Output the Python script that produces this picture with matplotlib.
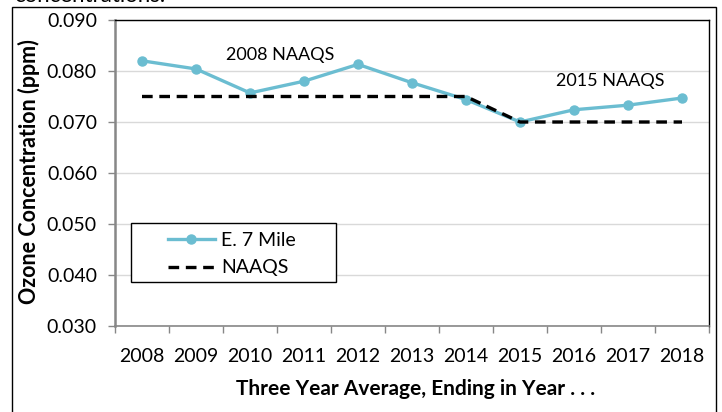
import matplotlib
matplotlib.use("Agg")
import matplotlib.pyplot as plt
from matplotlib.patches import Rectangle
from matplotlib.ticker import FixedLocator

plt.rcParams['font.family'] = ['Lato', 'DejaVu Sans']

years = ["2008", "2009", "2010", "2011", "2012", "2013", "2014", "2015", "2016", "2017", "2018"]
e7mile = [0.0820, 0.0804, 0.0757, 0.0780, 0.0813, 0.0777, 0.0744, 0.0700, 0.0724, 0.0733, 0.0747]
naaqs = [0.075, 0.075, 0.075, 0.075, 0.075, 0.075, 0.075, 0.070, 0.070, 0.070, 0.070]
yticks = [0.030, 0.040, 0.050, 0.060, 0.070, 0.080, 0.090]

W, H = 722, 412
fig = plt.figure(figsize=(W / 100, H / 100), dpi=100)
L, R, T, B = 115, 709, 20, 326
ax = fig.add_axes([L / W, 1 - B / H, (R - L) / W, (B - T) / H])

x = list(range(len(years)))
line_col = "#6BBDD1"
ax.plot(x, e7mile, color=line_col, lw=2.4, marker="o", ms=6.5, label="E. 7 Mile", zorder=3, clip_on=False)
ax.plot(x, naaqs, color="black", lw=2.4, ls=(0, (3.2, 2.0)), label="NAAQS", zorder=4)

ax.set_xlim(-0.5, len(years) - 0.5)
ax.set_ylim(0.030, 0.090)
ax.set_yticks(yticks)
ax.set_yticklabels([f"{v:.3f}" for v in yticks])
ax.set_xticks(x)
ax.set_xticklabels(years)
ax.xaxis.set_minor_locator(FixedLocator([i - 0.5 for i in range(len(years) + 1)]))
ax.tick_params(axis="x", which="major", length=0, pad=16, labelsize=14)
ax.tick_params(axis="x", which="minor", length=5, color="#878787", width=1)
ax.tick_params(axis="y", length=5, color="#878787", width=1, pad=8, labelsize=14)

ax.grid(axis="y", color="#D9D9D9", lw=1)
ax.set_axisbelow(True)
for s in ["top", "right"]:
    ax.spines[s].set_color("black")
    ax.spines[s].set_linewidth(1)
ax.spines["left"].set_color("#878787")
ax.spines["left"].set_linewidth(1.8)
ax.spines["bottom"].set_color("#878787")
ax.spines["bottom"].set_linewidth(1.2)

ax.text(2.56, 0.0831, "2008 NAAQS", ha="center", va="center", fontsize=13)
ax.text(8.67, 0.0780, "2015 NAAQS", ha="center", va="center", fontsize=13)

# legend box
ax.add_patch(Rectangle((0.0269, 0.1438), 0.372 - 0.0269, 0.3366 - 0.1438,
                       transform=ax.transAxes, fill=True, facecolor="white",
                       edgecolor="black", lw=1, zorder=5))
leg = ax.legend(loc="center left", bbox_to_anchor=((168 - L) / (R - L), (B - 254) / (B - T)),
                frameon=False, borderpad=0, borderaxespad=0, handlelength=2.4,
                handletextpad=0.35, labelspacing=0.55, fontsize=14)
leg.set_zorder(6)

fig.text(29 / W, 1 - 172 / H, "Ozone Concentration (ppm)", rotation=90, ha="center", va="center",
         fontsize=15.5, fontweight="bold")
fig.text(416 / W, 1 - 389 / H, "Three Year Average, Ending in Year . . .", ha="center", va="center",
         fontsize=15, fontweight="bold")

# truncated title fragment at top
fig.text(14 / W, 1 - 2 / H, "concentrations.", ha="left", va="baseline", fontsize=16)

# outer chart frame
fig.patches.append(Rectangle((12 / W, -0.05), (716 - 12) / W, 1.05 - 7 / H,
                             transform=fig.transFigure, fill=False, edgecolor="black", lw=1))

fig.savefig("out.png", dpi=100)
